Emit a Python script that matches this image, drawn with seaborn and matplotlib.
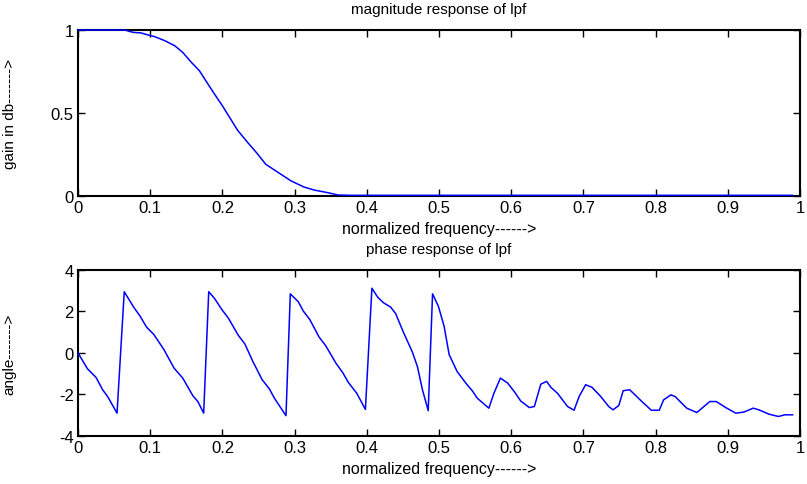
import matplotlib
matplotlib.use("Agg")
import matplotlib.pyplot as plt
import seaborn as sns
import pandas as pd

# ---- data ----
mag_freq = [0.0, 0.0645, 0.076, 0.0876, 0.097, 0.106, 0.120, 0.134, 0.145, 0.157,
            0.168, 0.180, 0.189, 0.200, 0.210, 0.221, 0.235, 0.247, 0.260, 0.274,
            0.295, 0.313, 0.327, 0.346, 0.360, 0.380, 0.990]
mag_gain = [1.0, 1.0, 0.986, 0.982, 0.970, 0.960, 0.936, 0.905, 0.865, 0.805,
            0.755, 0.674, 0.614, 0.543, 0.473, 0.396, 0.322, 0.262, 0.191, 0.151,
            0.091, 0.054, 0.036, 0.020, 0.006, 0.004, 0.004]

ph_freq = [0.0, 0.013, 0.025, 0.034, 0.041, 0.054, 0.064, 0.077, 0.086, 0.095,
           0.105, 0.119, 0.133, 0.145, 0.159, 0.166, 0.174, 0.181, 0.189, 0.199,
           0.208, 0.222, 0.231, 0.242, 0.255, 0.265, 0.272, 0.288, 0.294, 0.305,
           0.312, 0.321, 0.334, 0.343, 0.357, 0.367, 0.374, 0.386, 0.398, 0.407,
           0.415, 0.423, 0.433, 0.440, 0.451, 0.463, 0.470, 0.477, 0.485, 0.491,
           0.499, 0.507, 0.514, 0.525, 0.537, 0.546, 0.553, 0.569, 0.576, 0.585,
           0.595, 0.604, 0.613, 0.625, 0.632, 0.641, 0.649, 0.655, 0.664, 0.678,
           0.687, 0.694, 0.703, 0.712, 0.724, 0.735, 0.741, 0.749, 0.755, 0.764,
           0.780, 0.794, 0.805, 0.811, 0.821, 0.827, 0.843, 0.857, 0.875, 0.884,
           0.897, 0.911, 0.922, 0.935, 0.943, 0.957, 0.970, 0.979, 0.990]
ph_angle = [0.0, -0.76, -1.18, -1.77, -2.10, -2.90, 2.95, 2.21, 1.77, 1.24,
            0.89, 0.16, -0.73, -1.21, -2.06, -2.34, -2.90, 2.95, 2.63, 2.10,
            1.69, 0.85, 0.44, -0.40, -1.29, -1.73, -2.18, -3.02, 2.85, 2.47,
            2.02, 1.61, 0.76, 0.35, -0.48, -0.97, -1.40, -1.94, -2.72, 3.12,
            2.69, 2.42, 2.21, 1.89, 0.97, 0.05, -0.65, -1.77, -2.78, 2.85,
            2.26, 1.29, -0.08, -0.89, -1.45, -1.82, -2.18, -2.66, -1.94, -1.21,
            -1.45, -1.85, -2.31, -2.63, -2.58, -1.50, -1.37, -1.66, -1.94, -2.58,
            -2.76, -2.10, -1.53, -1.66, -2.10, -2.58, -2.74, -2.53, -1.82, -1.77,
            -2.31, -2.76, -2.76, -2.26, -2.02, -2.10, -2.66, -2.87, -2.34, -2.34,
            -2.63, -2.90, -2.85, -2.66, -2.74, -2.95, -3.06, -2.98, -2.98]

xtick_vals = [0, 0.1, 0.2, 0.3, 0.4, 0.5, 0.6, 0.7, 0.8, 0.9, 1]
xtick_labels = ["0", "0.1", "0.2", "0.3", "0.4", "0.5", "0.6", "0.7", "0.8", "0.9", "1"]
mag_yticks = [0, 0.5, 1]
mag_ylabels = ["0", "0.5", "1"]
ph_yticks = [-4, -2, 0, 2, 4]
ph_ylabels = ["-4", "-2", "0", "2", "4"]

sns.set_theme(style="white")
plt.rcParams["font.family"] = ["Liberation Sans", "DejaVu Sans"]

fig = plt.figure(figsize=(8.07, 4.85), dpi=100)
fig.patch.set_facecolor("white")
ax1 = fig.add_axes([0.0967, 0.5938, 0.8947, 0.3423])
ax2 = fig.add_axes([0.0967, 0.0990, 0.8947, 0.3423])

df_mag = pd.DataFrame({"f": mag_freq, "g": mag_gain})
df_ph = pd.DataFrame({"f": ph_freq, "a": ph_angle})

sns.lineplot(data=df_mag, x="f", y="g", ax=ax1, color="#0000ff", lw=1.1,
             estimator=None, sort=False)
sns.lineplot(data=df_ph, x="f", y="a", ax=ax2, color="#0000ff", lw=1.1,
             estimator=None, sort=False)
for ax in (ax1, ax2):
    for ln in ax.get_lines():
        ln.set_clip_on(False)
        ln.set_zorder(5)

def style(ax, yt, ytl, ylim, title, ylabel):
    ax.set_xlim(0, 1)
    ax.set_ylim(*ylim)
    ax.set_xticks(xtick_vals)
    ax.set_xticklabels(xtick_labels)
    ax.set_yticks(yt)
    ax.set_yticklabels(ytl)
    ax.tick_params(direction="in", length=5, width=1, top=True, right=True,
                   bottom=True, left=True, labelsize=12, colors="black", pad=3)
    for s in ax.spines.values():
        s.set_visible(True)
        s.set_color("black")
        s.set_linewidth(1.5)
        s.set_zorder(2)
    ax.set_facecolor("white")
    ax.set_title(title, fontsize=11, pad=12, color="black")
    ax.set_xlabel("normalized frequency------>", fontsize=11.5, labelpad=4, color="black")
    ax.set_ylabel(ylabel, fontsize=11, color="black")
    ax.yaxis.set_label_coords(-0.085, 0.5)
    ax.grid(False)

style(ax1, mag_yticks, mag_ylabels, (0, 1), "magnitude response of lpf", "gain in db------->")
style(ax2, ph_yticks, ph_ylabels, (-4, 4), "phase response of lpf", "angle------->")

fig.savefig("out.png", dpi=100)
